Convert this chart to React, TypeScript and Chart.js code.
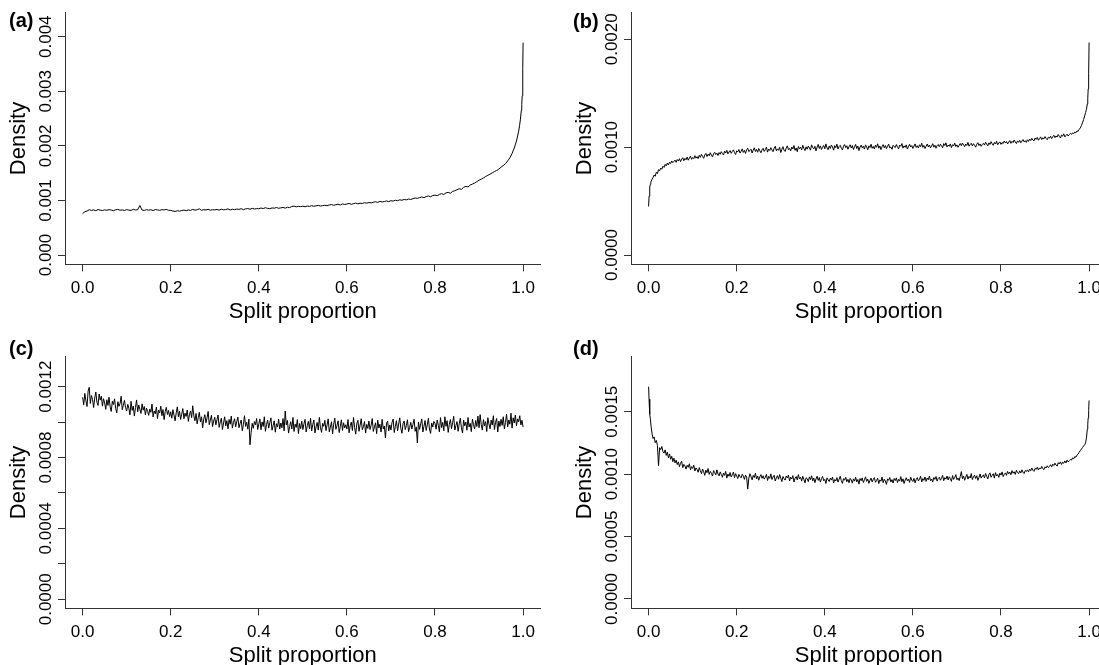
import React, { useEffect, useRef } from 'react';
import { Chart, registerables } from 'chart.js';
import type { ChartConfiguration, Plugin } from 'chart.js';

Chart.register(...registerables);

const FONT = '"Liberation Sans", Arial, Helvetica, sans-serif';
const AXIS = '#333';
const UNIT = 1e-6; // density values below are stored in units of 1e-6

const xTickValues = [0, 0.2, 0.4, 0.6, 0.8, 1.0];
const xTickLabels = ['0.0', '0.2', '0.4', '0.6', '0.8', '1.0'];

// ---- (a) ----  grid 0 .. 0.99 every 0.005
const aGridStart = 0;
const aGridStep = 0.005;
const aDensity = [
  760, 792, 806, 830, 818, 826, 812, 834, 822, 815,
  828, 819, 832, 824, 811, 829, 836, 821, 826, 817,
  833, 822, 818, 837, 826, 829, 908, 824, 817, 831,
  822, 829, 815, 834, 826, 819, 831, 825, 836, 820,
  818, 806, 798, 812, 804, 815, 823, 811, 826, 818,
  836, 822, 829, 846, 819, 831, 824, 838, 821, 830,
  827, 835, 822, 840, 829, 833, 846, 826, 838, 831,
  842, 836, 849, 831, 845, 852, 838, 856, 843, 850,
  848, 861, 852, 866, 855, 849, 863, 858, 870, 856,
  864, 872, 859, 876, 868, 890, 896, 883, 892, 886,
  895, 884, 898, 890, 905, 893, 901, 910, 897, 906,
  912, 903, 918, 925, 911, 922, 930, 916, 936, 927,
  934, 946, 929, 941, 952, 938, 950, 944, 958, 951,
  962, 955, 968, 976, 963, 985, 972, 980, 991, 978,
  996, 988, 1004, 995, 1012, 1003, 1018, 1010, 1026, 1017,
  1033, 1045, 1038, 1052, 1064, 1050, 1072, 1081, 1068, 1090,
  1098, 1086, 1110, 1125, 1108, 1139, 1148, 1132, 1165, 1178,
  1196, 1215, 1203, 1240, 1258, 1246, 1282, 1300, 1318, 1345,
  1372, 1390, 1412, 1438, 1460, 1482, 1506, 1530, 1548, 1575,
  1610, 1640, 1675, 1725, 1780, 1860, 1960, 2090, 2270,
];
const aTailX = [0.992, 0.994, 0.996, 0.997, 0.998, 0.999, 0.9995, 1.0];
const aTailY = [2370, 2490, 2650, 2760, 2920, 3180, 3420, 3890];
const aYTicks = [0, 0.001, 0.002, 0.003, 0.004];
const aYLabels = ['0.000', '0.001', '0.002', '0.003', '0.004'];

// ---- (b) ----  grid 0.01 .. 0.99 every 0.0025
const bHeadX = [0, 0.001, 0.002, 0.003, 0.004, 0.005, 0.0075];
const bHeadY = [450, 545, 595, 630, 655, 675, 700];
const bGridStart = 0.01;
const bGridStep = 0.0025;
const bDensity = [
  718, 742, 730, 768, 755, 792, 781, 806, 795, 823, 812, 840, 826, 852, 835, 861, 848, 872, 856, 868,
  880, 859, 885, 871, 893, 866, 889, 902, 874, 896, 883, 908, 879, 899, 916, 887, 904, 893, 921, 898,
  912, 894, 925, 906, 933, 915, 897, 928, 942, 913, 935, 920, 948, 926, 909, 939, 952, 931, 944, 922,
  950, 934, 958, 941, 927, 963, 946, 971, 938, 955, 968, 943, 960, 975, 949, 932, 966, 957, 978, 945,
  962, 984, 951, 970, 942, 976, 990, 958, 968, 981, 946, 973, 994, 960, 979, 953, 987, 966, 948, 975,
  989, 961, 978, 1000, 954, 982, 969, 995, 975, 958, 991, 1008, 966, 984, 971, 999, 950, 980, 1004, 972,
  960, 993, 1012, 976, 988, 965, 1001, 983, 1015, 970, 992, 958, 1006, 985, 999, 974, 1018, 989, 968, 1003,
  981, 1010, 992, 972, 1021, 996, 984, 1008, 965, 1000, 1025, 987, 1012, 979, 998, 1016, 985, 1030, 993, 976,
  1011, 988, 1020, 1002, 972, 1014, 995, 1028, 983, 1006, 1017, 990, 974, 1009, 1024, 996, 1013, 981, 1005, 1022,
  992, 1015, 978, 1003, 1026, 987, 1010, 968, 1001, 1019, 994, 1008, 982, 1021, 1000, 975, 1012, 996, 1027, 989,
  1007, 984, 1018, 999, 1031, 990, 1011, 977, 1004, 1023, 995, 1014, 986, 1009, 1028, 993, 1002, 980, 1017, 1006,
  996, 1024, 1003, 985, 1019, 1008, 1033, 991, 1012, 998, 1021, 982, 1006, 1027, 1001, 1015, 988, 1010, 1030, 997,
  1013, 992, 1022, 1005, 1036, 998, 1016, 987, 1009, 1029, 1002, 1020, 994, 1011, 1032, 1000, 1018, 990, 1014, 1025,
  1004, 1027, 1012, 995, 1033, 1015, 1040, 1001, 1019, 1008, 1030, 996, 1023, 1011, 1037, 1006, 1021, 999, 1016, 1034,
  1013, 1038, 1020, 1005, 1029, 1016, 1044, 1009, 1025, 1036, 1011, 1032, 1018, 1000, 1027, 1041, 1015, 1030, 1008, 1024,
  1035, 1019, 1046, 1028, 1012, 1040, 1025, 1051, 1031, 1017, 1044, 1029, 1055, 1022, 1038, 1049, 1026, 1043, 1033, 1057,
  1039, 1052, 1030, 1047, 1061, 1036, 1054, 1042, 1066, 1048, 1033, 1058, 1045, 1063, 1040, 1056, 1070, 1049, 1060, 1044,
  1068, 1053, 1075, 1061, 1082, 1066, 1058, 1085, 1072, 1090, 1064, 1079, 1095, 1070, 1086, 1077, 1098, 1081, 1069, 1092,
  1084, 1101, 1079, 1096, 1110, 1088, 1104, 1093, 1117, 1099, 1085, 1112, 1102, 1124, 1095, 1108, 1120, 1103, 1115, 1128,
  1118, 1132, 1125, 1140, 1134, 1150, 1146, 1165, 1178, 1200, 1225, 1255, 1290,
];
const bTailX = [0.992, 0.994, 0.996, 0.997, 0.998, 0.999, 1.0];
const bTailY = [1320, 1350, 1400, 1450, 1540, 1680, 1970];
const bYTicks = [0, 0.001, 0.002];
const bYLabels = ['0.0000', '0.0010', '0.0020'];

// ---- (c) ----  grid 0 .. 1 every 0.0025
const cGridStart = 0;
const cGridStep = 0.0025;
const cDensity = [
  1140, 1098, 1162, 1120, 1088, 1175, 1196, 1105, 1150, 1128, 1082, 1136, 1170, 1112, 1094, 1158, 1124, 1146, 1090, 1132,
  1108, 1072, 1126, 1094, 1140, 1085, 1060, 1118, 1099, 1131, 1077, 1052, 1115, 1089, 1104, 1146, 1070, 1096, 1123, 1081,
  1062, 1100, 1078, 1041, 1117, 1066, 1090, 1034, 1082, 1125, 1058, 1096, 1072, 1049, 1103, 1067, 1088, 1040, 1079, 1061,
  1038, 1074, 1055, 1102, 1029, 1063, 1047, 1085, 1020, 1068, 1052, 1090, 1036, 1071, 1014, 1059, 1083, 1043, 1066, 1031,
  1058, 1022, 1070, 1040, 1007, 1052, 1086, 1030, 1061, 1015, 1045, 1076, 1019, 1050, 1032, 1068, 1004, 1041, 1063, 1025,
  1092, 1035, 1008, 1049, 990, 1026, 1055, 1001, 1030, 968, 1018, 1042, 996, 1024, 1060, 985, 1012, 1038, 975, 1006,
  1027, 984, 1012, 1040, 970, 1001, 1022, 958, 995, 1030, 979, 1008, 962, 1015, 988, 1034, 966, 998, 1019, 973,
  1004, 1028, 968, 992, 1012, 951, 985, 1036, 976, 999, 960, 1017, 872, 940, 993, 965, 1003, 985, 1020, 958,
  990, 1018, 957, 1001, 975, 1030, 948, 986, 1012, 966, 998, 1024, 954, 980, 1007, 943, 991, 972, 1016, 961,
  995, 968, 1020, 950, 1062, 984, 1009, 938, 976, 1002, 961, 1026, 947, 988, 970, 1014, 935, 992, 963, 1005,
  958, 990, 1015, 944, 979, 1004, 962, 1021, 950, 986, 1012, 939, 973, 998, 955, 1027, 968, 942, 993, 976,
  1010, 952, 984, 1018, 945, 971, 1002, 934, 988, 1022, 959, 980, 1007, 941, 975, 1013, 953, 996, 967, 985,
  961, 1014, 940, 979, 1000, 952, 1026, 969, 932, 991, 1010, 948, 983, 1019, 957, 974, 1003, 938, 987, 964,
  1006, 958, 982, 1020, 947, 973, 996, 935, 1011, 967, 988, 944, 1015, 962, 978, 910, 994, 1005, 951, 984,
  955, 998, 1017, 941, 976, 1008, 950, 989, 1024, 963, 937, 992, 1006, 958, 981, 1013, 946, 970, 999, 961,
  987, 1016, 948, 973, 882, 1001, 959, 990, 1018, 944, 977, 1009, 953, 984, 1021, 961, 936, 995, 972, 1004,
  994, 960, 1012, 982, 945, 1025, 969, 998, 951, 1030, 976, 1008, 942, 987, 1015, 963, 996, 1033, 955, 980,
  1003, 948, 990, 1022, 967, 938, 1011, 979, 1000, 954, 1026, 972, 993, 946, 1017, 985, 961, 1009, 975, 1034,
  968, 1042, 986, 955, 1014, 979, 1003, 947, 1025, 990, 962, 1011, 983, 1036, 958, 999, 1020, 944, 1006, 975,
  1016, 981, 1030, 962, 998, 1045, 973, 1012, 988, 1050, 966, 1024, 995, 1040, 979, 1018, 1002, 1036, 984, 1010,
  972,
];
const cYTicks = [0, 0.0002, 0.0004, 0.0006, 0.0008, 0.001, 0.0012];
const cYLabels = ['0.0000', '', '0.0004', '', '0.0008', '', '0.0012'];

// ---- (d) ----  grid 0.01 .. 0.99 every 0.0025
const dHeadX = [0, 0.001, 0.002, 0.003, 0.004, 0.006, 0.008];
const dHeadY = [1700, 1600, 1530, 1480, 1440, 1370, 1320];
const dGridStart = 0.01;
const dGridStep = 0.0025;
const dDensity = [
  1285, 1298, 1252, 1270, 1230, 1068, 1212, 1196, 1221, 1180, 1168, 1194, 1150, 1176, 1131, 1162, 1119, 1143, 1100, 1128,
  1090, 1112, 1076, 1098, 1060, 1087, 1103, 1052, 1078, 1066, 1040, 1071, 1055, 1083, 1034, 1060, 1046, 1072, 1025, 1050,
  1038, 1015, 1052, 1026, 1004, 1041, 1019, 990, 1032, 1011, 1045, 998, 1022, 1007, 985, 1028, 1012, 994, 1034, 1001,
  986, 1018, 997, 975, 1009, 990, 1022, 968, 1001, 983, 1013, 977, 995, 1016, 972, 1004, 986, 965, 998, 980,
  970, 999, 984, 958, 992, 976, 880, 968, 1003, 981, 954, 990, 973, 1008, 962, 985, 951, 979, 996, 966,
  987, 960, 975, 998, 949, 982, 966, 1002, 957, 978, 991, 945, 970, 988, 959, 996, 968, 940, 981, 963,
  952, 985, 970, 993, 945, 976, 961, 988, 937, 967, 980, 954, 996, 962, 975, 944, 983, 958, 930, 971,
  964, 940, 978, 955, 987, 946, 969, 932, 961, 983, 950, 973, 936, 965, 981, 947, 958, 925, 970, 954,
  941, 968, 952, 977, 929, 957, 945, 972, 936, 960, 983, 948, 926, 964, 951, 975, 939, 958, 931, 966,
  953, 928, 962, 944, 975, 938, 957, 920, 965, 947, 970, 933, 955, 978, 942, 961, 926, 950, 968, 937,
  958, 972, 935, 949, 967, 924, 954, 943, 976, 931, 959, 945, 918, 962, 950, 973, 937, 956, 929, 965,
  948, 970, 933, 958, 944, 980, 939, 962, 925, 953, 971, 946, 960, 934, 975, 952, 941, 966, 930, 957,
  972, 945, 960, 983, 938, 964, 950, 977, 942, 968, 955, 985, 947, 961, 936, 973, 958, 981, 944, 966,
  975, 951, 968, 990, 947, 972, 960, 985, 953, 979, 964, 942, 988, 958, 973, 996, 955, 969, 948, 981,
  1020, 963, 985, 951, 976, 998, 960, 982, 969, 1004, 957, 978, 992, 965, 987, 950, 974, 1001, 968, 985,
  992, 970, 1005, 983, 961, 996, 1010, 975, 990, 1003, 968, 1012, 985, 997, 974, 1008, 992, 1018, 980, 999,
  1010, 990, 1022, 1003, 1016, 995, 1028, 1007, 1019, 998, 1031, 1012, 1003, 1026, 1009, 1035, 1016, 1004, 1029, 1021,
  1034, 1018, 1040, 1027, 1049, 1031, 1022, 1046, 1038, 1055, 1033, 1050, 1041, 1062, 1044, 1036, 1058, 1049, 1067, 1053,
  1061, 1075, 1058, 1080, 1069, 1088, 1072, 1064, 1092, 1081, 1098, 1077, 1095, 1087, 1106, 1090, 1112, 1098, 1108, 1118,
  1112, 1130, 1122, 1141, 1135, 1152, 1160, 1175, 1188, 1200, 1212, 1225, 1235,
];
const dTailX = [0.992, 0.994, 0.996, 0.997, 0.998, 0.999, 1.0];
const dTailY = [1250, 1290, 1360, 1400, 1450, 1510, 1590];
const dYTicks = [0, 0.0005, 0.001, 0.0015];
const dYLabels = ['0.0000', '0.0005', '0.0010', '0.0015'];

type Pt = { x: number; y: number };

function buildPoints(
  headX: number[], headY: number[],
  gridStart: number, gridStep: number, grid: number[],
  tailX: number[], tailY: number[],
): Pt[] {
  const pts: Pt[] = [];
  headX.forEach((x, i) => pts.push({ x, y: headY[i] * UNIT }));
  grid.forEach((v, i) => pts.push({ x: gridStart + i * gridStep, y: v * UNIT }));
  tailX.forEach((x, i) => pts.push({ x, y: tailY[i] * UNIT }));
  return pts;
}

// R draws its y tick labels parallel to the axis, centred on the tick
const rotatedYLabels: Plugin<'line'> = {
  id: 'rotatedYLabels',
  afterDraw(chart, _args, opts: any) {
    const scale = chart.scales.y;
    const ctx = chart.ctx;
    ctx.save();
    ctx.font = `17px ${FONT}`;
    ctx.fillStyle = '#000';
    ctx.textAlign = 'center';
    ctx.textBaseline = 'middle';
    opts.values.forEach((v: number, i: number) => {
      const label = opts.labels[i];
      if (!label) return;
      ctx.save();
      ctx.translate(scale.right - 19, scale.getPixelForValue(v));
      ctx.rotate(-Math.PI / 2);
      ctx.fillText(label, 0, 0);
      ctx.restore();
    });
    ctx.restore();
  },
};

interface PanelProps {
  left: number;
  top: number;
  points: Pt[];
  yMin: number;
  yMax: number;
  yTicks: number[];
  yLabels: string[];
}

const CANVAS_W = 566;
const CANVAS_H = 344;

const Panel: React.FC<PanelProps> = ({ left, top, points, yMin, yMax, yTicks, yLabels }) => {
  const canvasRef = useRef<HTMLCanvasElement>(null);

  useEffect(() => {
    if (!canvasRef.current) return;
    const axisGrid = {
      display: true,
      drawOnChartArea: false,
      drawTicks: true,
      tickLength: 7,
      color: AXIS,
      lineWidth: 1,
    };
    const axisBorder = { display: true, color: AXIS, width: 1 };

    const config: ChartConfiguration<'line'> = {
      type: 'line',
      data: {
        datasets: [
          {
            data: points,
            borderColor: '#000',
            borderWidth: 1,
            pointRadius: 0,
            tension: 0,
            fill: false,
          },
        ],
      },
      options: {
        responsive: false,
        animation: false,
        layout: { padding: { left: 6, top: 12.7, right: 25.3, bottom: 18.4 } },
        plugins: {
          legend: { display: false },
          tooltip: { enabled: false },
          // @ts-ignore custom plugin options
          rotatedYLabels: { values: yTicks, labels: yLabels },
        },
        scales: {
          x: {
            type: 'linear',
            min: -0.04,
            max: 1.04,
            bounds: 'data',
            afterBuildTicks: (s: any) => {
              s.ticks = xTickValues.map((value) => ({ value }));
            },
            afterFit: (s: any) => {
              s.height = 61.3;
            },
            grid: axisGrid,
            border: axisBorder,
            ticks: {
              autoSkip: false,
              maxRotation: 0,
              padding: 7,
              color: '#000',
              font: { family: FONT, size: 17 },
              callback: (_v, i) => xTickLabels[i],
            },
            title: {
              display: true,
              text: 'Split proportion',
              color: '#000',
              font: { family: FONT, size: 22 },
              padding: 0,
            },
          },
          y: {
            type: 'linear',
            min: yMin,
            max: yMax,
            bounds: 'data',
            afterBuildTicks: (s: any) => {
              s.ticks = yTicks.map((value) => ({ value }));
            },
            afterFit: (s: any) => {
              s.width = 59;
            },
            grid: axisGrid,
            border: axisBorder,
            ticks: { display: false },
            title: {
              display: true,
              text: 'Density',
              color: '#000',
              font: { family: FONT, size: 22 },
              padding: 0,
            },
          },
        },
      },
      plugins: [rotatedYLabels],
    };

    const chart = new Chart(canvasRef.current, config);
    return () => chart.destroy();
  }, [points, yMin, yMax, yTicks, yLabels]);

  return (
    <div style={{ position: 'absolute', left, top, width: CANVAS_W, height: CANVAS_H }}>
      <canvas ref={canvasRef} width={CANVAS_W} height={CANVAS_H} style={{ display: 'block' }} />
    </div>
  );
};

const aPoints = buildPoints([], [], aGridStart, aGridStep, aDensity, aTailX, aTailY);
const bPoints = buildPoints(bHeadX, bHeadY, bGridStart, bGridStep, bDensity, bTailX, bTailY);
const cPoints = buildPoints([], [], cGridStart, cGridStep, cDensity, [], []);
const dPoints = buildPoints(dHeadX, dHeadY, dGridStart, dGridStep, dDensity, dTailX, dTailY);

const tagStyle: React.CSSProperties = {
  position: 'absolute',
  fontFamily: FONT,
  fontWeight: 'bold',
  fontSize: 20,
  lineHeight: '20px',
  color: '#000',
};

export default function App() {
  return (
    <div
      style={{
        position: 'absolute',
        left: 0,
        top: 0,
        width: 1099,
        height: 665,
        overflow: 'hidden',
        background: '#fff',
      }}
    >
      <Panel left={0} top={0} points={aPoints} yMin={-0.00017} yMax={0.00444} yTicks={aYTicks} yLabels={aYLabels} />
      <Panel left={566} top={0} points={bPoints} yMin={-0.0000862} yMax={0.0022466} yTicks={bYTicks} yLabels={bYLabels} />
      <Panel left={0} top={344} points={cPoints} yMin={-0.0000508} yMax={0.001369} yTicks={cYTicks} yLabels={cYLabels} />
      <Panel left={566} top={344} points={dPoints} yMin={-0.0000745} yMax={0.0019404} yTicks={dYTicks} yLabels={dYLabels} />
      <div style={{ ...tagStyle, left: 9, top: 10 }}>(a)</div>
      <div style={{ ...tagStyle, left: 573, top: 11 }}>(b)</div>
      <div style={{ ...tagStyle, left: 9, top: 338 }}>(c)</div>
      <div style={{ ...tagStyle, left: 573, top: 338 }}>(d)</div>
    </div>
  );
}
